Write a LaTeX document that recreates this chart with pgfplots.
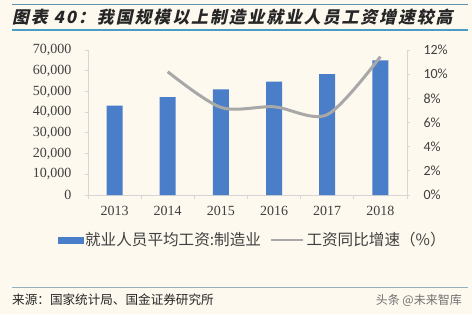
\documentclass[border=0pt]{standalone}
\usepackage{fontspec}
\setmainfont{Liberation Serif}
\newfontfamily\cjk{Noto Sans CJK SC}
\newfontfamily\cjkt[FakeSlant=0.22,LetterSpace=12]{Noto Sans CJK SC}
\newfontfamily\carl{Carlito}
\usepackage{pgfplots}
\pgfplotsset{compat=1.18}
\definecolor{bgc}{HTML}{FDF9EF}
\definecolor{barblue}{HTML}{4A7EC8}
\definecolor{lgray}{HTML}{A8A8A8}
\definecolor{axgray}{HTML}{D6D6D6}
\definecolor{txt}{HTML}{404040}
\definecolor{tline}{HTML}{4B9CC4}
\begin{document}
\begin{tikzpicture}
\fill[bgc] (0,0) rectangle (472pt,314pt);
\draw[color=tline!70!gray, line width=0.8pt] (12pt,310pt) -- (468pt,310pt);
\draw[color=tline, line width=1.6pt] (12pt,284pt) -- (468pt,284pt);
\node[anchor=west, text=black!85, inner sep=0pt] at (12pt,297pt) {\cjkt\bfseries\fontsize{16.8}{16.8}\selectfont 图表 40：我国规模以上制造业就业人员工资增速较高};
\draw[color=tline!50!gray!70, line width=0.8pt] (12pt,27pt) -- (468pt,27pt);
\node[anchor=west, text=black!85, inner sep=0pt] at (12pt,14pt) {\cjk\fontsize{12.6}{12.6}\selectfont 来源：国家统计局、国金证券研究所};
\node[anchor=east, text=black!55, inner sep=0pt] at (462pt,14pt) {\cjk\fontsize{12}{12}\selectfont 头条 @未来智库};
\begin{axis}[
  at={(88pt,119pt)}, anchor=south west, scale only axis,
  width=319pt, height=145pt,
  xmin=-0.5, xmax=5.5, ymin=0, ymax=70000,
  scaled y ticks=false,
  axis x line*=bottom, axis y line*=left,
  axis line style={axgray, line width=0.8pt},
  xtick={0,...,5}, xticklabels={2013,2014,2015,2016,2017,2018},
  minor xtick={-0.5,0.5,...,5.5},
  major x tick style={draw=none},
  minor tick length=4pt,
  minor tick style={axgray, line width=0.8pt},
  ytick={0,10000,...,70000},
  yticklabels={0,{10,000},{20,000},{30,000},{40,000},{50,000},{60,000},{70,000}},
  major y tick style={axgray, line width=0.8pt},
  tick align=outside, major tick length=3pt,
  yticklabel style={font=\fontsize{14}{14}\selectfont, text=txt, xshift=-10pt},
  xticklabel style={font=\fontsize{14}{14}\selectfont, text=txt, yshift=-5pt},
  /pgf/number format/assume math mode=true,
]
\addplot[ybar, bar width=16pt, fill=barblue, draw=none] coordinates {
(0,43100) (1,47300) (2,51000) (3,54700) (4,58400) (5,65000)};
\end{axis}
\begin{axis}[
  at={(88pt,119pt)}, anchor=south west, scale only axis,
  width=319pt, height=145pt,
  xmin=-0.5, xmax=5.5, ymin=0, ymax=12,
  axis x line=none, axis y line*=right,
  axis line style={axgray, line width=0.8pt},
  ytick={0,2,...,12},
  yticklabels={0\%,2\%,4\%,6\%,8\%,10\%,12\%},
  yticklabel style={font=\carl\fontsize{14}{14}\selectfont, text=txt, anchor=west, xshift=10pt},
  major y tick style={axgray, line width=0.8pt},
  tick align=outside, major tick length=3pt,
  legend style={at={(axis description cs:-0.105,-0.31)}, anchor=west, draw=none, fill=none,
    legend columns=2, font=\cjk\fontsize{15.6}{15.6}\selectfont, text=txt,
    /tikz/every even column/.append style={column sep=7pt}},
  legend cell align=left,
]
\addlegendimage{legend image code/.code={\fill[barblue] (0pt,-3pt) rectangle (25pt,3pt);}}
\addlegendentry{就业人员平均工资:制造业}
\addplot[lgray, line width=3pt, smooth, mark=none,
  legend image code/.code={\draw[lgray, line width=2.5pt] (0pt,0pt)--(32pt,0pt);}] coordinates {
(1,10.2) (2,7.25) (3,7.3) (4,6.65) (5,11.45)};
\addlegendentry{工资同比增速（\%）}
\end{axis}
\end{tikzpicture}
\end{document}
